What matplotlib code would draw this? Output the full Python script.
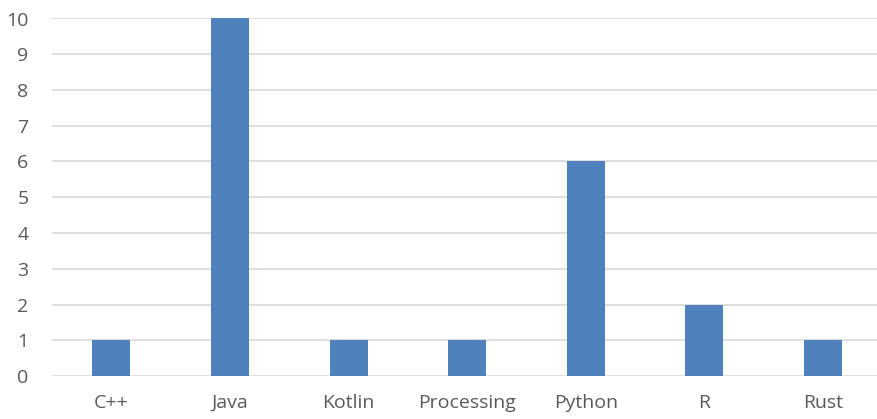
import matplotlib
matplotlib.use("Agg")
import matplotlib.pyplot as plt

languages = ["C++", "Java", "Kotlin", "Processing", "Python", "R", "Rust"]
counts = [1, 10, 1, 1, 6, 2, 1]
y_ticks = list(range(0, 11))

W, H = 877, 419
fig = plt.figure(figsize=(W / 100, H / 100), dpi=100)
left, right, bottom, top = 52, 877, 376, 18.5
ax = fig.add_axes([left / W, 1 - bottom / H, (right - left) / W, (bottom - top) / H])

step = 118.6
x = list(range(len(languages)))
ax.bar(x, counts, width=38 / step, color="#4F81BD", zorder=3)

ax.set_xlim(-0.5, -0.5 + (right - left) / step)
ax.set_ylim(0, 10)
ax.set_yticks(y_ticks)
ax.set_xticks(x)
ax.set_xticklabels(languages)

ax.grid(axis="y", color="#D9D9D9", linewidth=1.2, zorder=0)
for s in ax.spines.values():
    s.set_visible(False)
ax.tick_params(axis="both", length=0, labelcolor="#595959", labelsize=14)
ax.tick_params(axis="y", pad=17)
ax.tick_params(axis="x", pad=13)
for lbl in ax.get_xticklabels() + ax.get_yticklabels():
    lbl.set_fontfamily("Open Sans")

fig.savefig("out.png", dpi=100)
